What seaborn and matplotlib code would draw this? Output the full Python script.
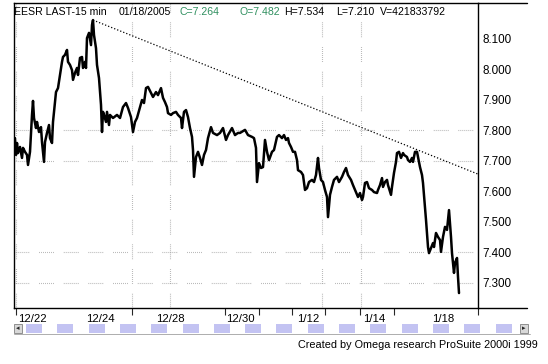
import matplotlib
matplotlib.use("Agg")
import matplotlib.pyplot as plt
from matplotlib.patches import Rectangle
from matplotlib.lines import Line2D
import seaborn as sns
import pandas as pd

# ---------------- data (15-minute bars) ----------------
bars = [0, 1, 2, 3, 5, 7, 8, 10, 12, 13, 15, 17, 18, 19, 21, 22, 24, 26, 27, 29,
        30, 32, 34, 35, 37, 38, 39, 41, 43, 45, 47, 48, 50, 52, 53, 55, 57, 58, 60, 62,
        63, 65, 67, 68, 70, 71, 72, 74, 76, 77, 78, 79, 81, 82, 84, 86, 87, 88, 89, 91,
        92, 94, 95, 98, 102, 105, 108, 111, 113, 116, 118, 120, 122, 125, 127, 129, 131, 133, 136, 138,
        141, 143, 146, 148, 150, 152, 153, 156, 158, 161, 163, 166, 167, 169, 171, 173, 175, 177, 178, 179,
        181, 183, 185, 187, 189, 191, 193, 196, 198, 202, 205, 208, 211, 213, 217, 220, 223, 225, 228, 230,
        233, 237, 239, 241, 242, 244, 246, 248, 250, 252, 254, 257, 259, 262, 264, 267, 269, 271, 273, 274,
        276, 278, 280, 282, 283, 286, 288, 290, 292, 294, 297, 299, 301, 303, 304, 306, 308, 310, 312, 313,
        315, 317, 319, 322, 324, 327, 329, 331, 333, 336, 338, 341, 343, 345, 347, 348, 350, 352, 354, 357,
        359, 362, 363, 365, 367, 368, 370, 372, 373, 376, 377, 379, 381, 382, 384, 386, 388, 389, 392, 393,
        395, 397, 398, 400, 402, 403, 405, 407, 408, 410, 411, 412, 413, 414, 416, 418, 419, 421, 423, 425,
        426, 428, 430, 432, 434, 436, 437, 438, 439, 440, 442, 443, 444]
prices = [7.775, 7.720, 7.759, 7.726, 7.746, 7.710, 7.743, 7.730, 7.720, 7.687, 7.730, 7.851, 7.897, 7.841, 7.808, 7.828, 7.795, 7.811, 7.762, 7.697,
          7.762, 7.792, 7.818, 7.775, 7.759, 7.828, 7.861, 7.926, 7.939, 7.982, 8.025, 8.041, 8.048, 8.064, 8.025, 8.015, 7.998, 7.966, 7.989, 8.005,
          7.982, 8.038, 8.041, 8.005, 8.025, 8.005, 8.103, 8.120, 8.080, 8.146, 8.162, 8.113, 8.070, 8.015, 7.972, 7.884, 7.795, 7.861, 7.851, 7.828,
          7.861, 7.818, 7.851, 7.841, 7.851, 7.841, 7.877, 7.890, 7.874, 7.844, 7.795, 7.828, 7.841, 7.877, 7.900, 7.890, 7.939, 7.943, 7.923, 7.910,
          7.926, 7.916, 7.939, 7.907, 7.893, 7.877, 7.857, 7.851, 7.857, 7.861, 7.851, 7.841, 7.808, 7.861, 7.867, 7.844, 7.808, 7.779, 7.736, 7.648,
          7.713, 7.730, 7.710, 7.687, 7.720, 7.736, 7.775, 7.811, 7.792, 7.785, 7.792, 7.808, 7.769, 7.785, 7.808, 7.785, 7.792, 7.792, 7.798, 7.802,
          7.785, 7.779, 7.775, 7.743, 7.631, 7.693, 7.677, 7.680, 7.769, 7.730, 7.703, 7.730, 7.736, 7.779, 7.785, 7.775, 7.785, 7.769, 7.775, 7.759,
          7.746, 7.730, 7.730, 7.703, 7.670, 7.664, 7.654, 7.605, 7.611, 7.631, 7.638, 7.631, 7.654, 7.710, 7.677, 7.638, 7.631, 7.605, 7.582, 7.516,
          7.589, 7.615, 7.638, 7.648, 7.631, 7.648, 7.664, 7.677, 7.654, 7.638, 7.621, 7.598, 7.582, 7.595, 7.572, 7.582, 7.628, 7.631, 7.611, 7.605,
          7.598, 7.595, 7.605, 7.621, 7.644, 7.615, 7.631, 7.638, 7.621, 7.589, 7.615, 7.661, 7.697, 7.726, 7.730, 7.710, 7.726, 7.720, 7.713, 7.703,
          7.697, 7.710, 7.697, 7.730, 7.730, 7.713, 7.680, 7.654, 7.628, 7.549, 7.507, 7.464, 7.418, 7.398, 7.415, 7.431, 7.418, 7.464, 7.451, 7.441,
          7.402, 7.451, 7.484, 7.474, 7.539, 7.451, 7.398, 7.366, 7.333, 7.366, 7.382, 7.320, 7.267]

trend_x = [78, 463]
trend_y = [8.162, 7.657]

ytick_values = [8.1, 8.0, 7.9, 7.8, 7.7, 7.6, 7.5, 7.4, 7.3]
grid_y = [7.8, 7.7, 7.4, 7.3]
date_labels = ["12/22", "12/24", "12/28", "12/30", "1/12", "1/14", "1/18"]
date_label_pos = [17, 85, 155, 225, 293, 359, 428]
tick_mark_pos = [1, 117, 155, 210, 244, 277, 310, 345, 379, 463]
grid_x = [1, 117, 155, 307, 346]

header = [("EESR LAST-15 min", "black"), ("01/18/2005", "black"),
          ("C=7.264", "#2f8f5f"), ("O=7.482", "#2f8f5f"),
          ("H=7.534", "black"), ("L=7.210", "black"), ("V=421833792", "black")]
header_x = [14, 119, 180, 239, 284, 336, 380]
footer = "Created by Omega research ProSuite 2000i 1999"

# ---------------- figure ----------------
sns.set_style("white")
plt.rcParams['font.family'] = ['Liberation Sans', 'DejaVu Sans']

W, H = 548, 364
fig = plt.figure(figsize=(W / 100, H / 100), dpi=100)
L, R, T, B = 14, 478, 3, 308
ax = fig.add_axes([L / W, 1 - B / H, (R - L) / W, (B - T) / H])

df = pd.DataFrame({"bar": bars, "price": prices})
sns.lineplot(data=df, x="bar", y="price", ax=ax, color="black", linewidth=1.8,
             estimator=None, sort=False)
sns.lineplot(x=trend_x, y=trend_y, ax=ax, color="black", linewidth=0.9,
             linestyle=(0, (1, 1.6)), estimator=None)

ax.set_xlim(-1, 463)
ax.set_ylim(7.218, 8.218)

seg = (0, (0.6, 1.2) * 7 + (0.6, 9))
for gy in grid_y:
    ax.axhline(gy, color="#9a9a9a", linewidth=0.8, linestyle=seg, zorder=0)
for gx in grid_x:
    ax.axvline(gx, color="#9a9a9a", linewidth=0.8, linestyle=seg, zorder=0)

# y axis on right
ax.yaxis.tick_right()
ax.set_yticks(ytick_values)
ax.set_yticklabels([f"{v:.3f}" for v in ytick_values])
ax.set_yticks(grid_y, minor=True)
ax.tick_params(axis="y", which="major", length=0, pad=3, labelsize=8.4, colors="black")
ax.tick_params(axis="y", which="minor", length=4, width=0.8, direction="out", right=True, left=False)

ax.set_xticks(date_label_pos)
ax.set_xticklabels(date_labels)
ax.set_xticks(tick_mark_pos, minor=True)
ax.tick_params(axis="x", which="major", length=0, pad=4, labelsize=8.2, colors="black")
ax.tick_params(axis="x", which="minor", length=5, width=0.8, direction="out", bottom=True)

ax.set_xlabel("")
ax.set_ylabel("")
for s in ax.spines.values():
    s.set_visible(True)
    s.set_color("black")
    s.set_linewidth(1.0)

# extended frame lines (chart chrome)
fig.add_artist(Line2D([R / W, 527 / W], [1 - T / H, 1 - T / H], color="black", linewidth=1.0))
fig.add_artist(Line2D([R / W, 527 / W], [1 - B / H, 1 - B / H], color="black", linewidth=1.0))

# header texts
for (txt, col), hx in zip(header, header_x):
    fig.text(hx / W, 1 - 12 / H, txt, color=col, fontsize=7.6, ha="left", va="center")

# scrollbar chrome
sb_y0, sb_h = 324, 9
fig.add_artist(Rectangle((14 / W, 1 - (sb_y0 + sb_h) / H), (530 - 14) / W, sb_h / H,
                         facecolor="white", edgecolor="none", transform=fig.transFigure))
for i in range(16):
    x0 = 26 + i * 31.3
    fig.add_artist(Rectangle((x0 / W, 1 - (sb_y0 + sb_h) / H), 16 / W, sb_h / H,
                             facecolor="#c3c3f2", edgecolor="none", transform=fig.transFigure))
for bx in [14, 520]:
    fig.add_artist(Rectangle((bx / W, 1 - (sb_y0 + sb_h) / H), 8 / W, sb_h / H,
                             facecolor="#d8d8d8", edgecolor="#808080", linewidth=0.6,
                             transform=fig.transFigure))
fig.text(18 / W, 1 - 328.5 / H, "◂", fontsize=5, ha="center", va="center")
fig.text(524 / W, 1 - 328.5 / H, "▸", fontsize=5, ha="center", va="center")
fig.add_artist(Line2D([14 / W, 530 / W], [1 - 334 / H, 1 - 334 / H], color="#a0a0a0", linewidth=0.6))

fig.text(538 / W, 1 - 345 / H, footer, fontsize=7.8, ha="right", va="center", color="black")

fig.savefig("out.png", dpi=100)
